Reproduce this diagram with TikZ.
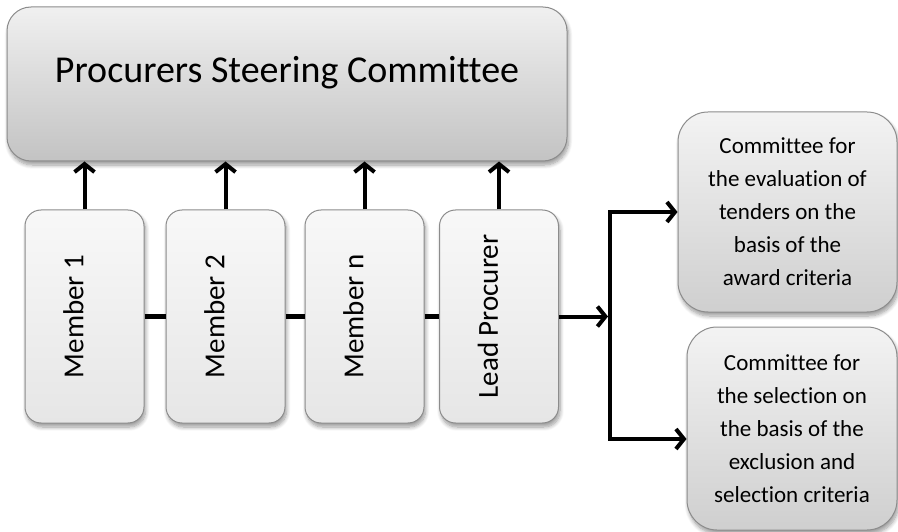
\documentclass[tikz,border=0pt]{standalone}
\usepackage{fontspec}
\setmainfont[Ligatures=NoCommon]{Carlito}
\usepackage{graphicx}
\usetikzlibrary{arrows.meta,shadows.blur}
\definecolor{edgegray}{HTML}{8C8C8C}
\definecolor{topA}{HTML}{F0F0F0}
\definecolor{topB}{HTML}{C3C3C3}
\definecolor{memA}{HTML}{F8F8F8}
\definecolor{memB}{HTML}{E6E6E6}
\definecolor{sideA}{HTML}{F3F3F3}
\definecolor{sideB}{HTML}{CFCFCF}
\newcommand{\vtext}[1]{\rotatebox{90}{#1}\kern22pt\relax}
\begin{document}
\begin{tikzpicture}[x=1pt,y=-1pt,
  box/.style={draw=edgegray, line width=1pt, inner sep=0pt,
    blur shadow={shadow xshift=1.5pt, shadow yshift=-4pt, shadow blur radius=4pt, shadow blur steps=8, shadow opacity=40}},
  topbox/.style={box, rounded corners=24pt, top color=topA, bottom color=topB,
    minimum width=560pt, minimum height=154pt,
    font=\fontsize{38}{44}\selectfont, text height=24pt, text depth=26pt},
  member/.style={box, rounded corners=16pt, top color=memA, bottom color=memB,
    minimum width=119pt, minimum height=213pt, font=\fontsize{29}{34}\selectfont},
  side/.style={box, rounded corners=30pt, top color=sideA, bottom color=sideB,
    align=center, font=\fontsize{23}{33}\selectfont},
  conn/.style={line width=5pt},
  tipstyle/.style={line width=4pt},
  arr/.style={tipstyle, -{Straight Barb[length=8pt,width=20pt]}},
  arrtwo/.style={tipstyle, {Straight Barb[length=8pt,width=20pt]}-{Straight Barb[length=8pt,width=20pt]}}
]
\useasboundingbox (0,0) rectangle (898,532);

\node[topbox] (top) at (287,84) {Procurers Steering Committee};

\node[member] (m1) at (84.5,316.5) {\vtext{Member 1}};
\node[member] (m2) at (225.5,316.5) {\vtext{Member 2}};
\node[member] (mn) at (364.5,316.5) {\vtext{Member n}};
\node[member] (lead) at (499,316.5) {\vtext{Lead Procurer}};

\node[side, minimum width=219pt, minimum height=200pt] (r1) at (787.5,212)
  {Committee for\\the evaluation of\\tenders on the\\basis of the\\award criteria};
\node[side, minimum width=210pt, minimum height=203pt] (r2) at (792,428.5)
  {Committee for\\the selection on\\the basis of the\\exclusion and\\selection criteria};

\foreach \m in {m1,m2,mn,lead}
  \draw[arr] (\m.north) -- (\m.north |- top.south);

\draw[conn] (m1.east) -- (m2.west);
\draw[conn] (m2.east) -- (mn.west);
\draw[conn] (mn.east) -- (lead.west);

\coordinate (j1) at (610,212);
\coordinate (j2) at (610,439);
\draw[arr, shorten >=2pt] (lead.east) -- (lead.east -| j1);
\draw[arrtwo] (j1 -| r1.west) -- (j1) -- (j2) -- (j2 -| r2.west);
\end{tikzpicture}
\end{document}
